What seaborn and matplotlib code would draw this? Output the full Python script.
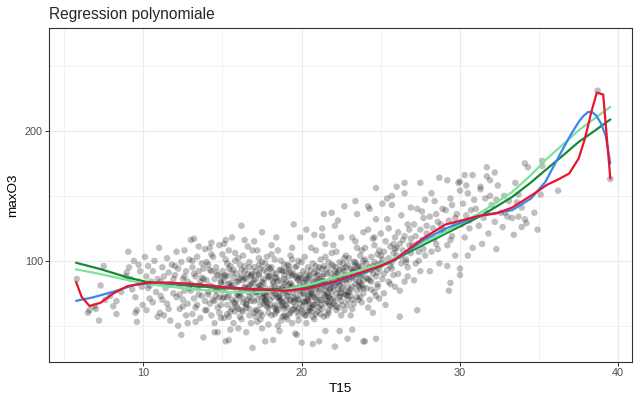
import matplotlib
matplotlib.use("Agg")
import matplotlib.pyplot as plt
from matplotlib.ticker import MultipleLocator
import seaborn as sns
import pandas as pd

# ----------------------------------------
# Scatter points (T15, maxO3)
# ----------------------------------------
pts_cold = [
    (5.8, 86), (6.5, 60), (6.6, 62), (6.9, 65), (7.0, 63), (7.2, 54), (7.3, 81), (7.5, 96), (7.6, 70), (7.9, 73),
    (8.1, 65), (8.3, 59), (8.3, 69), (8.6, 76), (8.9, 88), (8.95, 91), (9.05, 107), (9.1, 95), (9.2, 86), (9.3, 78),
    (9.4, 100), (9.5, 60), (9.5, 72), (9.6, 62), (9.6, 53), (9.7, 84), (9.8, 92), (9.9, 80), (9.96, 66), (9.7, 97),
    (10.1, 103), (10.2, 62), (10.2, 88), (10.3, 96), (10.3, 79), (10.4, 71), (10.5, 84), (10.6, 92), (10.6, 68),
    (10.7, 100), (10.8, 76), (10.9, 57), (10.9, 86), (10.4, 81),
    (11.0, 110), (11.05, 60), (11.1, 84), (11.1, 73), (11.2, 95), (11.3, 58), (11.3, 88), (11.4, 79), (11.5, 102),
    (11.5, 67), (11.6, 91), (11.7, 82), (11.7, 54), (11.8, 97), (11.9, 75), (11.9, 86), (11.2, 70), (11.6, 63),
]

pts_mild = [
    (12.0, 89), (12.1, 107), (12.1, 72), (12.2, 50), (12.2, 94), (12.3, 81), (12.3, 63), (12.4, 43), (12.4, 99),
    (12.5, 86), (12.5, 70), (12.6, 77), (12.6, 108), (12.7, 92), (12.7, 58), (12.8, 84), (12.8, 67), (12.9, 101),
    (12.9, 79), (12.0, 96), (12.3, 74), (12.6, 88), (12.8, 52), (12.5, 65),
    (13.0, 116), (13.0, 82), (13.1, 59), (13.1, 95), (13.2, 117), (13.2, 71), (13.3, 88), (13.3, 64), (13.4, 103),
    (13.4, 79), (13.5, 111), (13.5, 92), (13.6, 56), (13.6, 84), (13.7, 73), (13.7, 98), (13.8, 41), (13.8, 86),
    (13.9, 69), (13.9, 109), (13.0, 77), (13.2, 90), (13.4, 66), (13.6, 81), (13.8, 94), (13.1, 100), (13.3, 53),
    (13.5, 74), (13.7, 87), (13.9, 62),
    (14.0, 85), (14.0, 62), (14.1, 97), (14.1, 74), (14.2, 110), (14.2, 81), (14.3, 58), (14.3, 92), (14.4, 70),
    (14.4, 103), (14.5, 86), (14.5, 45), (14.6, 77), (14.6, 95), (14.7, 64), (14.7, 89), (14.8, 112), (14.8, 72),
    (14.9, 83), (14.9, 56), (14.0, 99), (14.2, 67), (14.4, 80), (14.6, 91), (14.8, 60), (14.1, 76), (14.3, 105),
    (14.5, 69), (14.7, 45), (14.9, 88), (14.2, 93), (14.5, 52), (14.8, 79), (14.3, 114), (14.6, 73), (14.9, 84),
    (15.0, 92), (15.0, 71), (15.1, 56), (15.1, 84), (15.2, 38), (15.2, 101), (15.2, 79), (15.3, 66), (15.3, 88),
    (15.4, 74), (15.4, 108), (15.5, 83), (15.5, 61), (15.5, 96), (15.6, 70), (15.6, 118), (15.7, 87), (15.7, 52),
    (15.8, 79), (15.8, 100), (15.9, 65), (15.9, 90), (15.0, 77), (15.1, 113), (15.3, 59), (15.4, 94), (15.6, 81),
    (15.7, 68), (15.8, 106), (15.9, 74), (15.2, 89), (15.5, 47), (15.3, 98), (15.6, 63), (15.9, 84), (15.1, 72),
    (15.4, 57), (15.7, 93), (15.0, 105), (15.8, 67), (15.5, 80), (15.2, 116), (15.4, 39),
]

pts_warm = [
    (16.0, 84), (16.0, 63), (16.1, 97), (16.1, 75), (16.2, 127), (16.2, 88), (16.2, 55), (16.3, 71), (16.3, 104),
    (16.4, 80), (16.4, 92), (16.5, 67), (16.5, 45), (16.5, 86), (16.6, 111), (16.6, 76), (16.7, 58), (16.7, 95),
    (16.8, 82), (16.8, 69), (16.9, 33), (16.9, 90), (16.0, 102), (16.1, 73), (16.3, 61), (16.4, 87), (16.6, 79),
    (16.7, 99), (16.8, 52), (16.9, 74), (16.2, 93), (16.5, 66), (16.3, 85), (16.6, 70), (16.9, 108), (16.1, 57),
    (16.4, 96), (16.7, 81), (16.0, 48), (16.8, 89), (16.5, 64), (16.2, 77), (16.4, 116), (16.7, 72), (16.9, 83),
    (17.0, 77), (17.0, 95), (17.1, 62), (17.1, 86), (17.2, 70), (17.2, 108), (17.2, 53), (17.3, 90), (17.3, 74),
    (17.4, 81), (17.4, 66), (17.5, 99), (17.5, 58), (17.5, 84), (17.6, 72), (17.6, 93), (17.7, 38), (17.7, 79),
    (17.8, 103), (17.8, 68), (17.9, 87), (17.9, 60), (17.0, 115), (17.1, 76), (17.3, 97), (17.4, 55), (17.6, 83),
    (17.7, 70), (17.8, 91), (17.9, 64), (17.2, 80), (17.5, 48), (17.3, 102), (17.6, 75), (17.9, 88), (17.1, 57),
    (17.4, 94), (17.7, 69), (17.0, 85), (17.8, 73), (17.5, 122), (17.2, 62), (17.4, 78), (17.7, 98), (17.9, 51),
    (17.3, 89), (17.6, 67),
    (18.0, 70), (18.0, 88), (18.1, 58), (18.1, 95), (18.2, 77), (18.2, 39), (18.2, 83), (18.3, 66), (18.3, 101),
    (18.4, 74), (18.4, 90), (18.5, 62), (18.5, 79), (18.5, 108), (18.6, 71), (18.6, 85), (18.7, 54), (18.7, 93),
    (18.8, 68), (18.8, 80), (18.9, 97), (18.9, 63), (18.0, 76), (18.1, 112), (18.3, 59), (18.4, 87), (18.6, 73),
    (18.7, 100), (18.8, 65), (18.9, 82), (18.2, 91), (18.5, 50), (18.3, 75), (18.6, 69), (18.9, 86), (18.1, 105),
    (18.4, 61), (18.7, 78), (18.0, 94), (18.8, 57), (18.5, 84), (18.2, 72), (18.4, 118), (18.7, 66), (18.9, 89),
    (18.3, 80), (18.6, 46), (18.8, 92),
    (19.0, 84), (19.0, 66), (19.1, 97), (19.1, 73), (19.2, 59), (19.2, 88), (19.2, 76), (19.3, 104), (19.3, 69),
    (19.4, 81), (19.4, 52), (19.5, 128), (19.5, 90), (19.5, 63), (19.6, 78), (19.6, 95), (19.7, 71), (19.7, 86),
    (19.8, 58), (19.8, 100), (19.9, 74), (19.9, 67), (19.0, 92), (19.1, 55), (19.3, 83), (19.4, 110), (19.6, 70),
    (19.7, 61), (19.8, 87), (19.9, 77), (19.2, 96), (19.5, 68), (19.3, 80), (19.6, 44), (19.9, 89), (19.1, 73),
    (19.4, 101), (19.7, 43), (19.0, 57), (19.8, 85), (19.5, 75), (19.2, 93), (19.4, 62), (19.7, 79), (19.9, 118),
    (19.3, 70), (19.6, 88), (19.8, 54),
]

pts_hot = [
    (20.0, 37), (20.0, 79), (20.1, 92), (20.1, 65), (20.2, 74), (20.2, 86), (20.2, 103), (20.3, 58), (20.3, 81),
    (20.4, 69), (20.4, 95), (20.5, 77), (20.5, 62), (20.5, 88), (20.6, 72), (20.6, 110), (20.7, 66), (20.7, 84),
    (20.8, 55), (20.8, 91), (20.9, 78), (20.9, 70), (20.0, 99), (20.1, 60), (20.3, 85), (20.4, 73), (20.6, 93),
    (20.7, 64), (20.8, 80), (20.9, 108), (20.2, 68), (20.5, 89), (20.3, 52), (20.6, 76), (20.9, 96), (20.1, 83),
    (20.4, 61), (20.7, 74), (20.0, 87), (20.8, 120), (20.5, 67), (20.2, 79), (20.4, 71), (20.7, 98), (20.9, 59),
    (20.3, 90), (20.6, 75), (20.8, 84), (20.7, 36), (20.3, 124),
    (21.0, 73), (21.0, 92), (21.1, 64), (21.1, 85), (21.2, 101), (21.2, 78), (21.2, 59), (21.3, 88), (21.3, 70),
    (21.4, 96), (21.4, 81), (21.5, 67), (21.5, 113), (21.5, 84), (21.6, 75), (21.6, 90), (21.7, 62), (21.7, 99),
    (21.8, 79), (21.8, 71), (21.9, 87), (21.9, 106), (21.0, 68), (21.1, 82), (21.3, 94), (21.4, 57), (21.6, 80),
    (21.7, 73), (21.8, 91), (21.9, 65), (21.2, 86), (21.5, 77), (21.3, 119), (21.6, 69), (21.9, 83), (21.1, 95),
    (21.4, 74), (21.7, 60), (21.0, 89), (21.8, 78), (21.5, 103), (21.2, 66), (21.4, 84), (21.7, 72), (21.9, 97),
    (21.3, 125), (21.1, 38), (21.4, 136), (21.9, 137), (21.5, 46),
    (22.0, 80), (22.0, 96), (22.1, 69), (22.1, 88), (22.2, 107), (22.2, 75), (22.2, 62), (22.3, 91), (22.3, 83),
    (22.4, 99), (22.4, 72), (22.5, 86), (22.5, 118), (22.5, 78), (22.6, 94), (22.6, 66), (22.7, 89), (22.7, 102),
    (22.8, 74), (22.8, 85), (22.9, 97), (22.9, 70), (22.0, 112), (22.1, 81), (22.3, 64), (22.4, 93), (22.6, 79),
    (22.7, 87), (22.8, 104), (22.9, 76), (22.2, 90), (22.5, 58), (22.3, 84), (22.6, 98), (22.9, 73), (22.1, 127),
    (22.4, 82), (22.7, 92), (22.0, 67), (22.8, 86), (22.5, 75), (22.2, 95), (22.1, 34), (22.9, 40), (22.3, 131),
    (22.7, 142), (22.4, 46),
    (23.0, 85), (23.0, 102), (23.1, 73), (23.1, 94), (23.2, 118), (23.2, 80), (23.3, 91), (23.3, 67), (23.4, 99),
    (23.4, 86), (23.5, 77), (23.5, 110), (23.6, 93), (23.6, 70), (23.7, 88), (23.7, 104), (23.8, 81), (23.8, 96),
    (23.9, 75), (23.9, 122), (23.0, 89), (23.2, 63), (23.4, 97), (23.6, 84), (23.8, 108), (23.1, 78), (23.3, 92),
    (23.5, 136), (23.7, 72), (23.9, 100), (23.2, 87), (23.5, 95), (23.8, 68), (23.4, 115), (23.7, 83), (23.1, 58),
    (23.6, 90), (23.9, 79), (23.9, 38), (23.4, 146), (23.2, 47),
]

# the dark core of the cloud
pts_core = [
    (14.6, 78), (14.9, 66), (15.1, 88), (15.3, 72), (15.6, 91), (15.8, 61), (16.0, 74), (16.1, 86), (16.3, 68),
    (16.4, 79), (16.6, 90), (16.7, 63), (16.9, 77), (17.0, 69), (17.1, 92), (17.3, 81), (17.4, 60), (17.6, 86),
    (17.7, 74), (17.9, 95), (18.0, 66), (18.1, 79), (18.3, 87), (18.4, 63), (18.5, 72), (18.6, 93), (18.8, 75),
    (18.9, 58), (19.0, 78), (19.1, 64), (19.2, 82), (19.3, 60), (19.4, 89), (19.5, 72), (19.6, 65), (19.7, 96),
    (19.8, 70), (19.9, 82), (20.0, 62), (20.1, 75), (20.2, 58), (20.3, 69), (20.4, 86), (20.5, 64), (20.6, 81),
    (20.7, 57), (20.8, 72), (20.9, 88), (21.0, 61), (21.1, 77), (21.2, 70), (21.3, 63), (21.4, 90), (21.5, 73),
    (21.6, 58), (21.7, 84), (21.8, 66), (21.9, 76), (22.0, 71), (22.1, 92), (22.2, 65), (22.3, 78), (22.4, 87),
    (22.5, 69), (22.6, 83), (22.7, 74), (22.8, 95), (22.9, 80), (23.0, 76), (23.1, 88), (23.2, 70), (23.3, 99),
    (23.4, 82), (23.5, 72), (23.6, 96), (23.7, 79), (23.8, 89), (23.9, 85), (15.4, 82), (16.2, 62), (16.8, 88),
    (17.2, 76), (17.8, 65), (18.2, 84), (18.7, 70), (19.3, 91), (19.8, 63), (20.3, 79), (20.8, 66), (21.3, 82),
    (21.7, 68), (22.2, 86), (22.7, 62), (23.2, 93), (15.9, 70), (17.5, 71), (18.9, 77), (20.1, 69), (21.0, 84),
    (22.4, 73), (23.6, 81), (24.1, 93), (24.4, 78), (24.8, 97), (19.0, 69), (20.6, 61), (18.3, 64), (17.0, 60),
    (21.6, 94), (22.9, 66),
]

pts_heat = [
    (24.0, 92), (24.0, 110), (24.1, 79), (24.1, 98), (24.2, 86), (24.2, 124), (24.3, 70), (24.3, 95), (24.4, 103),
    (24.4, 84), (24.5, 117), (24.5, 90), (24.6, 76), (24.6, 99), (24.7, 88), (24.7, 132), (24.8, 82), (24.8, 105),
    (24.9, 94), (24.9, 71), (24.0, 101), (24.2, 64), (24.4, 93), (24.6, 112), (24.8, 80), (24.1, 87), (24.3, 140),
    (24.5, 96), (24.7, 73), (24.9, 108), (24.3, 85), (24.6, 118), (24.8, 91), (24.5, 60), (24.7, 40), (24.0, 38),
    (24.2, 142), (24.7, 156),
    (25.0, 98), (25.0, 121), (25.1, 86), (25.2, 107), (25.2, 75), (25.3, 115), (25.4, 93), (25.4, 132), (25.5, 102),
    (25.5, 84), (25.6, 111), (25.6, 96), (25.7, 143), (25.8, 89), (25.8, 106), (25.9, 118), (25.9, 80), (25.1, 101),
    (25.3, 66), (25.5, 125), (25.7, 94), (25.9, 109), (25.2, 90), (25.4, 148), (25.6, 82), (25.8, 113), (25.0, 104),
    (25.7, 99), (25.7, 150), (25.1, 144),
    (26.0, 104), (26.1, 122), (26.1, 90), (26.2, 113), (26.3, 98), (26.3, 135), (26.4, 108), (26.5, 84), (26.5, 119),
    (26.6, 101), (26.7, 128), (26.7, 95), (26.8, 112), (26.9, 141), (26.9, 106), (26.2, 77), (26.4, 116), (26.6, 99),
    (26.8, 124), (26.0, 110), (26.5, 152), (26.7, 88), (26.3, 103), (26.9, 117), (26.2, 57), (26.5, 160), (26.0, 157),
    (27.0, 112), (27.1, 128), (27.2, 98), (27.2, 119), (27.3, 140), (27.4, 107), (27.5, 124), (27.5, 92), (27.6, 116),
    (27.7, 133), (27.8, 104), (27.8, 147), (27.9, 121), (27.1, 85), (27.3, 113), (27.5, 160), (27.7, 109),
    (27.9, 127), (27.4, 100), (27.6, 138), (27.3, 62),
]

pts_scorch = [
    (28.0, 118), (28.1, 134), (28.2, 107), (28.3, 125), (28.4, 146), (28.5, 113), (28.6, 130), (28.7, 98), (28.8, 121),
    (28.9, 140), (28.2, 152), (28.4, 117), (28.6, 109), (28.8, 128), (28.1, 92), (28.5, 136), (28.9, 124), (28.7, 164),
    (29.0, 123), (29.1, 139), (29.2, 112), (29.3, 131), (29.4, 148), (29.5, 119), (29.6, 127), (29.7, 104), (29.8, 136),
    (29.9, 160), (29.2, 96), (29.5, 143), (29.8, 128), (29.4, 116), (29.7, 133), (29.3, 77), (29.4, 83), (29.2, 162),
    (30.1, 128), (30.2, 144), (30.3, 118), (30.4, 135), (30.5, 152), (30.6, 125), (30.7, 139), (30.8, 110), (30.9, 147),
    (30.3, 166), (30.6, 131), (30.0, 94), (30.0, 89), (30.5, 104), (30.0, 161), (30.0, 154), (30.8, 166), (30.4, 158),
    (31.0, 140), (31.2, 127), (31.3, 155), (31.5, 133), (31.6, 148), (31.8, 121), (31.9, 162), (31.4, 113), (31.7, 137),
    (31.7, 172), (31.7, 165), (31.3, 157), (31.9, 150),
    (32.0, 143), (32.2, 130), (32.4, 158), (32.6, 137), (32.8, 150), (32.2, 168), (32.7, 126), (32.3, 109), (32.3, 147),
    (32.85, 137),
    (33.1, 146), (33.3, 133), (33.5, 160), (33.7, 151), (33.9, 141), (33.4, 120), (33.0, 134), (33.7, 134), (33.6, 145),
    (33.9, 126),
    (34.1, 175), (34.3, 172), (34.2, 129), (34.1, 132), (34.9, 124), (34.7, 137), (35.2, 177), (35.2, 173), (35.1, 151),
    (36.2, 154), (38.7, 231), (39.5, 163),
]

# ----------------------------------------
# Polynomial fits
# ----------------------------------------
deg2_x = [5.75, 7.3, 9.0, 10.2, 13.2, 15.5, 17.0, 19.0, 21.0, 23.0, 25.0, 27.0, 29.1, 31.2, 32.2, 33.3, 34.4,
          35.4, 36.5, 37.5, 38.5, 39.5]
deg2_y = [98.5, 93.6, 87.2, 83.8, 80.5, 78.8, 77.8, 78.3, 81.0, 86.5, 95.5, 108.0, 121.0, 133.8, 141.0, 149.2,
          159.5, 169.8, 181.0, 191.5, 200.0, 208.8]

deg3_x = [5.75, 7.3, 9.0, 10.2, 13.2, 15.5, 17.0, 19.0, 20.4, 22.1, 23.6, 25.0, 25.9, 27.7, 29.1, 31.2, 32.2,
          33.3, 34.4, 35.4, 36.5, 37.5, 38.5, 39.5]
deg3_y = [93.4, 89.8, 85.2, 82.1, 78.0, 75.8, 75.6, 78.0, 81.3, 87.2, 92.3, 97.5, 102.6, 114.0, 122.3, 136.5,
          144.0, 153.0, 165.0, 177.5, 189.5, 200.5, 209.5, 218.5]

deg6_x = [5.75, 6.8, 8.1, 9.4, 10.6, 13.2, 15.5, 17.3, 19.0, 20.4, 22.1, 23.6, 25.0, 25.9, 27.7, 29.1, 31.2,
          33.3, 34.5, 35.4, 36.4, 37.0, 37.5, 37.8, 38.1, 38.35, 38.6, 38.9, 39.2, 39.5]
deg6_y = [69.2, 71.8, 76.2, 81.3, 83.1, 82.1, 79.5, 77.8, 77.0, 78.5, 83.0, 89.5, 96.0, 100.5, 116.0, 124.9,
          134.6, 139.0, 148.0, 160.8, 183.8, 197.0, 206.9, 211.5, 214.6, 214.5, 212.0, 206.0, 196.7, 174.9]

deg12_x = [5.75, 6.1, 6.6, 7.3, 8.1, 9.0, 10.2, 11.5, 13.2, 15.2, 17.3, 19.0, 20.4, 22.1, 23.6, 25.0, 25.9,
           27.7, 29.1, 30.0, 31.2, 32.3, 33.3, 34.6, 35.5, 36.2, 36.9, 37.5, 37.9, 38.3, 38.65, 39.05, 39.5]
deg12_y = [83.8, 72.3, 65.2, 67.7, 74.9, 80.5, 83.1, 83.3, 82.1, 79.5, 78.0, 76.9, 78.8, 83.9, 90.3, 96.2,
           101.0, 117.5, 128.0, 130.8, 134.6, 136.5, 141.0, 151.0, 158.5, 162.6, 167.2, 178.8, 194.2, 214.6,
           229.5, 228.0, 163.4]

fits = [
    (deg2_x, deg2_y, "#138A36"),
    (deg3_x, deg3_y, "#7DE39A"),
    (deg6_x, deg6_y, "#3A86F0"),
    (deg12_x, deg12_y, "#E8152F"),
]

df = pd.DataFrame(pts_cold + pts_mild + pts_warm + pts_hot + pts_core + pts_heat + pts_scorch,
                  columns=["T15", "maxO3"])

# ----------------------------------------
# Plot
# ----------------------------------------
sns.set_theme(style="white")
plt.rcParams["font.family"] = ["Liberation Sans", "DejaVu Sans"]

W, H = 634, 394
fig = plt.figure(figsize=(W / 100, H / 100), dpi=100)
ax = fig.add_axes([49.3 / W, 1 - 362 / H, (632 - 49.3) / W, (362 - 28.3) / H])

sns.scatterplot(data=df, x="T15", y="maxO3", color="black", alpha=0.25, s=22,
                edgecolor="none", linewidth=0, ax=ax, zorder=2)

for xs, ys, col in fits:
    sns.lineplot(x=xs, y=ys, color=col, lw=1.6, sort=False, estimator=None, ax=ax, zorder=3)

ax.set_xlim(4.06, 40.87)
ax.set_ylim(22.1, 279)
ax.xaxis.set_major_locator(MultipleLocator(10))
ax.xaxis.set_minor_locator(MultipleLocator(5))
ax.yaxis.set_major_locator(MultipleLocator(100))
ax.yaxis.set_minor_locator(MultipleLocator(50))
ax.grid(which="major", color="#EBEBEB", lw=0.8)
ax.grid(which="minor", color="#EBEBEB", lw=0.45)
ax.set_axisbelow(True)

for sp in ax.spines.values():
    sp.set_color("#333333")
    sp.set_linewidth(0.8)
ax.tick_params(which="major", bottom=True, left=True, length=2.6, width=0.7, color="#333333",
               labelsize=7.8, labelcolor="#4D4D4D", pad=2)
ax.tick_params(which="minor", length=0)

ax.set_xlabel("T15", fontsize=9.7, color="black", labelpad=3)
ax.set_ylabel("maxO3", fontsize=9.7, color="black", labelpad=4)

fig.text(49.3 / W, 1 - 18.5 / H, "Regression polynomiale", fontsize=11.2, ha="left", va="baseline")

fig.savefig("out.png", dpi=100)
